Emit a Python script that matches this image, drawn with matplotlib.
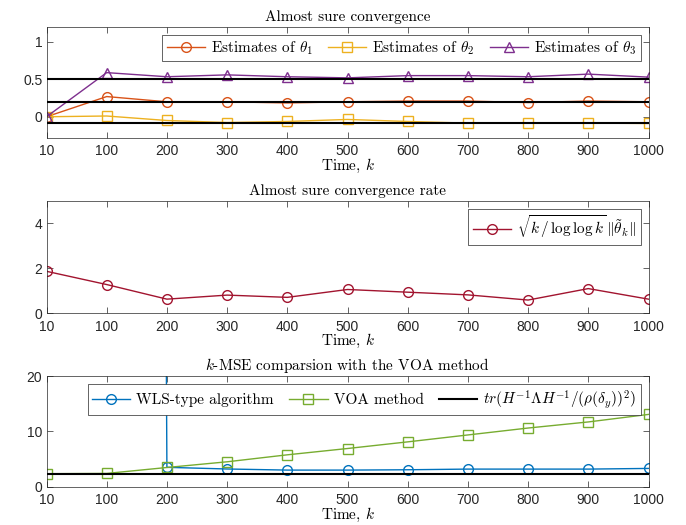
import matplotlib
matplotlib.use("Agg")
import matplotlib.pyplot as plt
import numpy as np

plt.rcParams['mathtext.fontset'] = 'cm'
plt.rcParams['axes.unicode_minus'] = False

k_labels = ['10', '100', '200', '300', '400', '500', '600', '700', '800', '900', '1000']

theta1 = [0.0, 0.27, 0.20, 0.20, 0.185, 0.20, 0.21, 0.21, 0.19, 0.21, 0.20]
theta2 = [0.0, 0.01, -0.05, -0.077, -0.063, -0.036, -0.063, -0.085, -0.085, -0.085, -0.09]
theta3 = [0.0, 0.59, 0.535, 0.56, 0.535, 0.52, 0.55, 0.55, 0.535, 0.57, 0.53]
true_theta = [0.5, 0.2, -0.09]

rate = [1.87, 1.28, 0.63, 0.81, 0.71, 1.06, 0.94, 0.82, 0.59, 1.10, 0.63]

wls_mse = [5000.0, 2000.0, 3.5, 3.2, 3.0, 3.0, 3.06, 3.18, 3.18, 3.18, 3.3]
voa_mse = [2.35, 2.4, 3.47, 4.5, 5.76, 6.9, 8.1, 9.35, 10.6, 11.7, 13.06]
bound = 2.3

c_orange = '#D95319'
c_yellow = '#EDB120'
c_purple = '#7E2F8E'
c_red = '#A2142F'
c_blue = '#0072BD'
c_green = '#77AC30'
c_axis = '#262626'

fig = plt.figure(figsize=(6.86, 5.25), dpi=100)
W, H = 686, 525
def rect(l, t, r, b):
    return [l / W, 1 - b / H, (r - l) / W, (b - t) / H]

ax1 = fig.add_axes(rect(46.5, 27, 648.5, 137.7))
ax2 = fig.add_axes(rect(46.5, 201, 648.5, 313.3))
ax3 = fig.add_axes(rect(46.5, 376, 648.5, 486.7))

x = np.arange(len(k_labels))
serif = 'cmr10'

def style(ax, ylim, yticks, ytl):
    ax.set_xlim(x[0], x[-1])
    ax.set_ylim(*ylim)
    ax.set_xticks(x)
    ax.set_xticklabels(k_labels)
    ax.set_yticks(yticks)
    ax.set_yticklabels(ytl)
    ax.tick_params(direction='in', top=True, right=True, length=4, width=0.5,
                   colors=c_axis, labelsize=10)
    ax.tick_params(axis='x', pad=4.5)
    ax.tick_params(axis='y', pad=3)
    for lab in ax.get_xticklabels() + ax.get_yticklabels():
        lab.set_fontfamily('Liberation Sans')
    for s in ax.spines.values():
        s.set_linewidth(0.5)
        s.set_color(c_axis)
    ax.set_xlabel(r'Time, $k$', fontfamily=serif, fontsize=11, labelpad=-1)

mk = dict(markersize=7, markerfacecolor='none', linewidth=1.0, markeredgewidth=1.0)

# Panel 1
ax1.plot(x, theta1, '-o', color=c_orange, label=r'Estimates of $\theta_1$', **mk)
ax1.plot(x, theta2, '-s', color=c_yellow, label=r'Estimates of $\theta_2$', **mk)
ax1.plot(x, theta3, '-^', color=c_purple, label=r'Estimates of $\theta_3$', **mk)
for v in true_theta:
    ax1.axhline(v, color='black', linewidth=1.5, zorder=3)
style(ax1, (-0.28, 1.2), [0, 0.5, 1], ['0', '0.5', '1'])
ax1.set_title('Almost sure convergence', fontfamily=serif, fontsize=11, pad=4)
leg = ax1.legend(loc='upper right', ncol=3, fancybox=False, edgecolor=c_axis,
                 prop={'family': serif, 'size': 11}, handlelength=2.5,
                 borderaxespad=0.5, columnspacing=1.0, handletextpad=0.4,
                 borderpad=0.3, framealpha=1)
leg.get_frame().set_linewidth(0.5)

# Panel 2
ax2.plot(x, rate, '-o', color=c_red,
         label=r'$\sqrt{k\,/\,\log\log k}\,\Vert\tilde{\theta}_k\Vert$', **mk)
style(ax2, (0, 5), [0, 2, 4], ['0', '2', '4'])
ax2.set_title('Almost sure convergence rate', fontfamily=serif, fontsize=11, pad=4)
leg = ax2.legend(loc='upper right', fancybox=False, edgecolor=c_axis,
                 prop={'family': serif, 'size': 11}, handlelength=2.5,
                 borderaxespad=0.5, handletextpad=0.4, borderpad=0.3, framealpha=1)
leg.get_frame().set_linewidth(0.5)

# Panel 3
ax3.plot(x, wls_mse, '-o', color=c_blue, label='WLS-type algorithm', **mk)
ax3.plot(x, voa_mse, '-s', color=c_green, label='VOA method', **mk)
ax3.plot(x, [bound] * len(x), '-', color='black', linewidth=1.5,
         label=r'$tr(H^{-1}\Lambda H^{-1}/(\rho(\delta_y))^2)$', zorder=3)
style(ax3, (0, 20), [0, 10, 20], ['0', '10', '20'])
ax3.set_title(r'$k$-MSE comparsion with the VOA method', fontfamily=serif,
              fontsize=11, pad=4)
leg = ax3.legend(loc='upper right', ncol=3, fancybox=False, edgecolor=c_axis,
                 prop={'family': serif, 'size': 11}, handlelength=2.5,
                 borderaxespad=0.5, columnspacing=1.0, handletextpad=0.4,
                 borderpad=0.3, framealpha=1)
leg.get_frame().set_linewidth(0.5)

fig.savefig('out.png', dpi=100)
